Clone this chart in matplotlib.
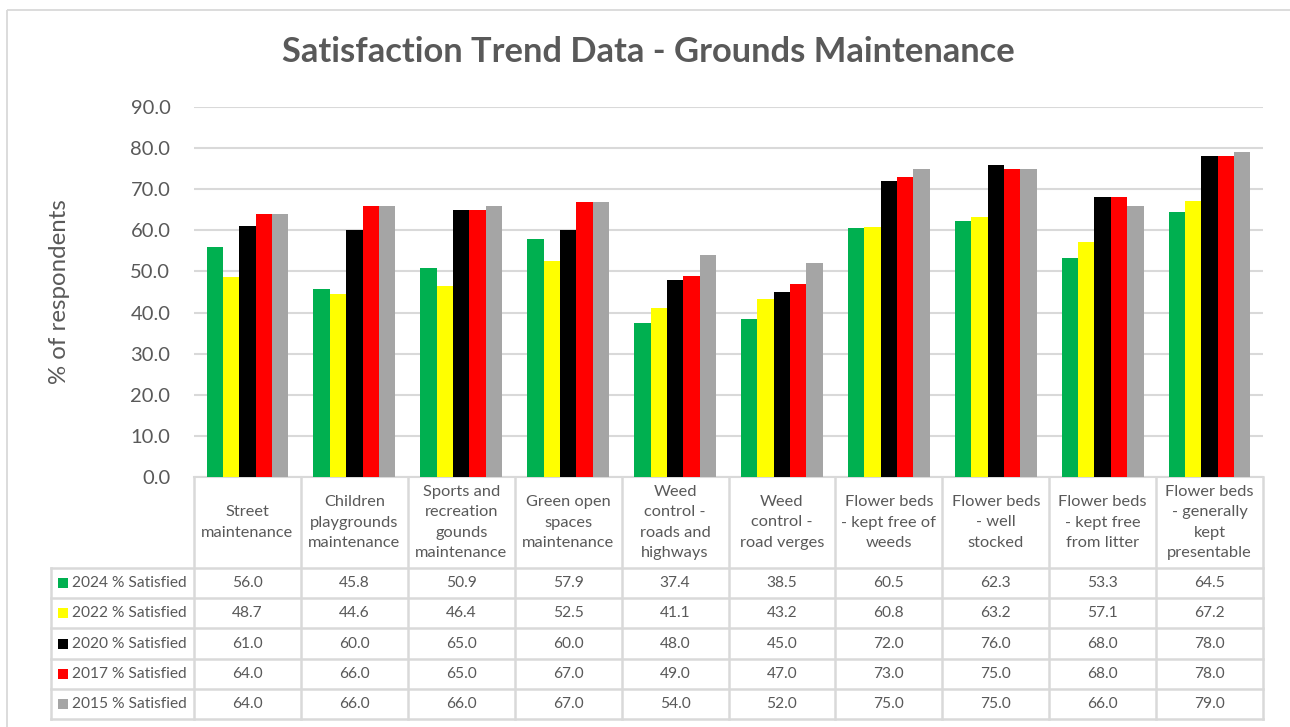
import numpy as np
import matplotlib
matplotlib.use("Agg")
import matplotlib.pyplot as plt
from matplotlib.patches import Rectangle

plt.rcParams['font.family'] = ['Lato', 'DejaVu Sans']

categories = [
    "Street\nmaintenance",
    "Children\nplaygrounds\nmaintenance",
    "Sports and\nrecreation\ngounds\nmaintenance",
    "Green open\nspaces\nmaintenance",
    "Weed\ncontrol -\nroads and\nhighways",
    "Weed\ncontrol -\nroad verges",
    "Flower beds\n- kept free of\nweeds",
    "Flower beds\n- well\nstocked",
    "Flower beds\n- kept free\nfrom litter",
    "Flower beds\n- generally\nkept\npresentable",
]
series_names = ["2024 % Satisfied", "2022 % Satisfied", "2020 % Satisfied",
                "2017 % Satisfied", "2015 % Satisfied"]
sat_2024 = [56.0, 45.8, 50.9, 57.9, 37.4, 38.5, 60.5, 62.3, 53.3, 64.5]
sat_2022 = [48.7, 44.6, 46.4, 52.5, 41.1, 43.2, 60.8, 63.2, 57.1, 67.2]
sat_2020 = [61.0, 60.0, 65.0, 60.0, 48.0, 45.0, 72.0, 76.0, 68.0, 78.0]
sat_2017 = [64.0, 66.0, 65.0, 67.0, 49.0, 47.0, 73.0, 75.0, 68.0, 78.0]
sat_2015 = [64.0, 66.0, 66.0, 67.0, 54.0, 52.0, 75.0, 75.0, 66.0, 79.0]
series_values = [sat_2024, sat_2022, sat_2020, sat_2017, sat_2015]
series_colors = ["#00B050", "#FFFF00", "#000000", "#FF0000", "#A5A5A5"]
y_ticks = [0, 10, 20, 30, 40, 50, 60, 70, 80, 90]

TEXT = "#595959"
GRID = "#D9D9D9"
W, H = 1290, 727

# layout in pixels
plot_left, plot_right = 194, 1263
plot_top, plot_bottom = 107, 477
header_bottom = 568
row_h = 30.2
legend_left = 51

fig = plt.figure(figsize=(W / 100, H / 100), dpi=100)
fig.patch.set_facecolor("white")

ax = fig.add_axes([plot_left / W, 1 - plot_bottom / H,
                   (plot_right - plot_left) / W, (plot_bottom - plot_top) / H])
n = len(categories)
x = np.arange(n)
bw = 0.153
for i, (vals, col) in enumerate(zip(series_values, series_colors)):
    ax.bar(x + (i - 2) * bw, vals, width=bw, color=col, zorder=3, linewidth=0)
ax.set_xlim(-0.5, n - 0.5)
ax.set_ylim(0, 90)
ax.set_yticks(y_ticks)
ax.set_yticklabels([f"{v:.1f}" for v in y_ticks], fontsize=14.5, color=TEXT)
ax.tick_params(axis="y", length=0, pad=17)
ax.set_xticks([])
ax.grid(axis="y", color=GRID, linewidth=1.5, zorder=0)
for s in ["left", "right", "top"]:
    ax.spines[s].set_visible(False)
ax.spines["bottom"].set_color(GRID)
ax.spines["bottom"].set_linewidth(1.5)
ax.set_facecolor("none")

fig.text(59 / W, 1 - 292 / H, "% of respondents", rotation=90, fontsize=17.3,
         color=TEXT, ha="center", va="center")
fig.text(648 / W, 1 - 52 / H, "Satisfaction Trend Data - Grounds Maintenance",
         fontsize=24.8, fontweight="bold", color=TEXT, ha="center", va="center")

# data table drawn in pixel space
ov = fig.add_axes([0, 0, 1, 1])
ov.set_xlim(0, W)
ov.set_ylim(H, 0)
ov.axis("off")
ov.patch.set_alpha(0)

ov.add_patch(Rectangle((6.5, 9.5), W + 10, H + 10, fill=False, edgecolor=GRID,
                       linewidth=1.3))

cw = (plot_right - plot_left) / n
table_bottom = header_bottom + row_h * len(series_names)
lw_t = 1.8
for j in range(n + 1):
    xx = plot_left + j * cw
    ov.plot([xx, xx], [plot_bottom, table_bottom], color=GRID, lw=lw_t)
for r in range(len(series_names) + 1):
    yy = header_bottom + r * row_h
    ov.plot([legend_left, plot_right], [yy, yy], color=GRID, lw=lw_t)
ov.plot([legend_left, legend_left], [header_bottom, table_bottom], color=GRID, lw=lw_t)

hc = (plot_bottom + header_bottom) / 2
for j, cat in enumerate(categories):
    ov.text(plot_left + (j + 0.5) * cw, hc, cat, ha="center", va="center",
            fontsize=11.8, color=TEXT, linespacing=1.55)

for r, (name, vals, col) in enumerate(zip(series_names, series_values, series_colors)):
    yc = header_bottom + (r + 0.5) * row_h
    ov.add_patch(Rectangle((58, yc - 5), 10, 10, facecolor=col, edgecolor="none"))
    ov.text(72, yc, name, ha="left", va="center", fontsize=11.2, color=TEXT)
    for j, v in enumerate(vals):
        ov.text(plot_left + (j + 0.5) * cw, yc, f"{v:.1f}", ha="center",
                va="center", fontsize=11.2, color=TEXT)

fig.savefig("out.png", dpi=100, facecolor="white")
